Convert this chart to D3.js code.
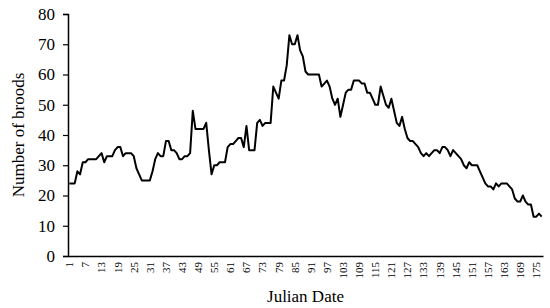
<!DOCTYPE html>
<html>
<head>
<meta charset="utf-8">
<script src="https://cdn.jsdelivr.net/npm/d3@7"></script>
<style>
  body { margin: 0; background: #fff; }
  svg { display: block; }
</style>
</head>
<body>
<svg width="550" height="308"></svg>
<script>
const width = 550;
const height = 308;
const left = 68;
const right = 543;
const top_y = 14;
const bottom_y = 256;
const serif = "'Liberation Serif', 'Times New Roman', serif";

// number of broods per Julian date, day 1 .. 177
const broods = [
  24, 24, 24, 28, 27, 31, 31, 32, 32, 32,
  32, 33, 34, 31, 33, 33, 33, 35, 36, 36,
  33, 34, 34, 34, 33, 29, 27, 25, 25, 25,
  25, 28, 32, 34, 33, 33, 38, 38, 35, 35,
  34, 32, 32, 33, 33, 34, 48, 42, 42, 42,
  42, 44, 35, 27, 30, 30, 31, 31, 31, 36,
  37, 37, 38, 39, 39, 36, 43, 35, 35, 35,
  44, 45, 43, 44, 44, 44, 56, 54, 52, 58,
  58, 63, 73, 70, 70, 73, 68, 66, 61, 60,
  60, 60, 60, 60, 56, 57, 58, 56, 52, 50,
  52, 46, 50, 54, 55, 55, 58, 58, 58, 57,
  57, 54, 54, 52, 50, 50, 56, 53, 50, 49,
  52, 48, 44, 43, 46, 42, 39, 38, 38, 37,
  36, 34, 33, 34, 33, 34, 35, 35, 34, 36,
  36, 35, 33, 35, 34, 33, 32, 30, 29, 31,
  30, 30, 30, 28, 26, 24, 23, 23, 22, 24,
  23, 24, 24, 24, 23, 22, 19, 18, 18, 20,
  18, 17, 17, 13, 13, 14, 13
];
const days = broods.map((v, i) => i + 1);
const x_ticks = days.filter(d => (d - 1) % 6 === 0);
const y_ticks = [0, 10, 20, 30, 40, 50, 60, 70, 80];

let svg = d3.select("svg");

let x = d3.scaleBand().domain(days).range([left, right]);
let y = d3.scaleLinear().domain([0, 80]).range([bottom_y, top_y]);

// y axis
let yAxis = svg.append("g")
  .attr("transform", `translate(${left},0)`)
  .call(d3.axisLeft(y).tickValues(y_ticks).tickSize(5).tickPadding(8))
  .attr("font-family", serif)
  .attr("font-size", 17);
yAxis.select(".domain").attr("stroke-width", 1.5);
yAxis.selectAll(".tick line").attr("stroke-width", 1.2);

// x axis
let xAxis = svg.append("g")
  .attr("transform", `translate(0,${bottom_y})`)
  .call(d3.axisBottom(x).tickValues(x_ticks).tickSize(0).tickSizeOuter(0))
  .attr("font-family", serif)
  .attr("font-size", 11);
xAxis.select(".domain").attr("stroke-width", 1.5);
xAxis.selectAll("text")
  .attr("text-anchor", "end")
  .attr("transform", "rotate(-90)")
  .attr("x", -6)
  .attr("y", 0)
  .attr("dy", "0.35em");

// line
let line = d3.line()
  .x((d, i) => x(days[i]) + x.bandwidth() / 2)
  .y(d => y(d));

svg.append("path")
  .datum(broods)
  .attr("d", line)
  .attr("fill", "none")
  .attr("stroke", "black")
  .attr("stroke-width", 2)
  .attr("stroke-linejoin", "round");

// axis titles
svg.append("text")
  .attr("x", (left + right) / 2)
  .attr("y", 302)
  .attr("text-anchor", "middle")
  .attr("font-family", serif)
  .attr("font-size", 17)
  .text("Julian Date");

svg.append("text")
  .attr("transform", `translate(24,${(top_y + bottom_y) / 2}) rotate(-90)`)
  .attr("text-anchor", "middle")
  .attr("font-family", serif)
  .attr("font-size", 17)
  .text("Number of broods");
</script>
</body>
</html>
